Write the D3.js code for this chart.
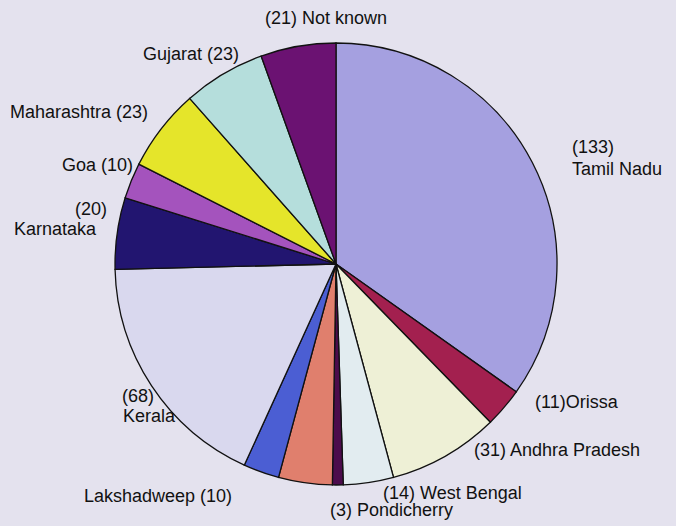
<!DOCTYPE html>
<html lang='en'>
<head>
  <meta charset='UTF-8'>
  <title>Pie by state</title>
  <style>
  body {
    margin: 0;
    background: #e4e2ee;
  }
  svg {
    display: block;
  }
  .label {
    font-family: 'Liberation Sans', Arial, sans-serif;
    font-size: 18px;
    fill: #111;
  }
  .slice {
    stroke: #111;
    stroke-width: 1.3px;
  }
  </style>
  <script src='https://d3js.org/d3.v7.min.js'></script>
</head>
<body>
  <script>

  // data, clockwise from 12 o'clock
  var names = ['Tamil Nadu', 'Orissa', 'Andhra Pradesh', 'West Bengal', 'Pondicherry', '',
               'Lakshadweep', 'Kerala', 'Karnataka', 'Goa', 'Maharashtra', 'Gujarat', 'Not known'];
  var values = [133, 11, 31, 14, 3, 15, 10, 68, 20, 10, 23, 23, 21];
  var colors = ['#a5a0e0', '#a3204f', '#eef0d6', '#e2ecf0', '#4c0c4c', '#e07f6d',
                '#4b5ed3', '#d9d8ee', '#221570', '#a453bd', '#e5e52a', '#b5dedc', '#6b1272'];

  // how each label is written: pre = "(n) name", post = "name (n)", stack = two lines
  var labelStyle = ['stack', 'tight', 'pre', 'pre', 'pre', 'none',
                    'post', 'stack', 'stack', 'post', 'post', 'post', 'pre'];
  // label anchor points (first line baseline, second line baseline)
  var labelPos = [
    [[572, 153], [572, 175]],
    [[535, 408]],
    [[474, 456]],
    [[383, 499]],
    [[330, 516]],
    [],
    [[84, 502]],
    [[122, 402], [123, 422]],
    [[75, 215], [14, 235]],
    [[62, 171]],
    [[10, 118]],
    [[143, 60]],
    [[265, 24]]
  ];

  var width = 676, height = 526;
  var cx = 336, cy = 264, radius = 221;

  var svg = d3.select('body').append('svg')
    .attr('width', width)
    .attr('height', height);

  var g = svg.append('g').attr('transform', 'translate(' + cx + ',' + cy + ')');

  var pie = d3.pie().sort(null).value(function (d) { return d; });
  var arc = d3.arc().innerRadius(0).outerRadius(radius);

  var arcs = pie(values);

  // draw slices

  g.selectAll('.slice')
    .data(arcs)
    .enter()
    .append('path')
    .attr('class', 'slice')
    .attr('d', arc)
    .attr('fill', function (d, i) { return colors[i]; });

  // labels

  function labelLines(i) {
    var v = '(' + values[i] + ')';
    switch (labelStyle[i]) {
      case 'stack': return [v, names[i]];
      case 'tight': return [v + names[i]];
      case 'pre': return [v + ' ' + names[i]];
      case 'post': return [names[i] + ' ' + v];
      default: return [];
    }
  }

  names.forEach(function (n, i) {
    labelLines(i).forEach(function (line, j) {
      svg.append('text')
        .attr('class', 'label')
        .attr('x', labelPos[i][j][0])
        .attr('y', labelPos[i][j][1])
        .text(line);
    });
  });
  </script>
</body>
</html>
